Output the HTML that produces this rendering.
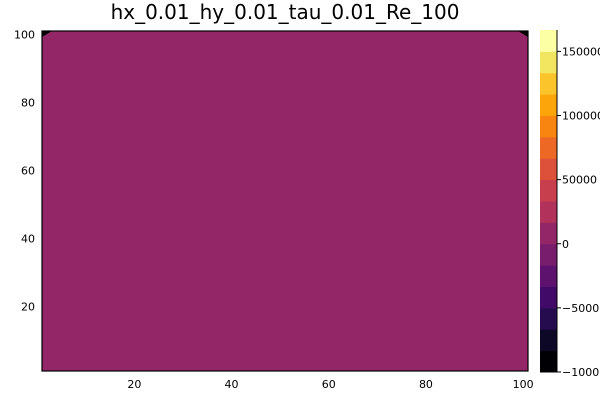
<!DOCTYPE html>
<html><head><meta charset="utf-8"><style>
body{margin:0;background:#fff}
svg{display:block;font-family:"DejaVu Sans","Liberation Sans",sans-serif}
</style></head><body>
<svg id="c" width="600" height="400" viewBox="0 0 600 400">
<text x="285" y="19" font-size="20" text-anchor="middle" fill="#000">hx_0.01_hy_0.01_tau_0.01_Re_100</text>
<g id="plot"></g>
<g id="cb"></g>
</svg>
<script>
const xTicks=[20,40,60,80,100];
const yTicks=[20,40,60,80,100];
const cbTicks=[-100000,-50000,0,50000,100000,150000];
const cbTickLabels=["\u2212100000","\u221250000","0","50000","100000","150000"];
const levelColors=["#000004","#0c0826","#240c4f","#420a68","#5d126e","#781c6d","#932667","#b1325a","#c73e4c","#dd513a","#ec6824","#f8850f","#fca50a","#fac42a","#f2e661","#fcffa4"];
const levelMin=-100000, levelStep=16666.67;
const fieldValue=5000; // dominant field value
const ns="http://www.w3.org/2000/svg";
function mk(t,a,p){const e=document.createElementNS(ns,t);for(const k in a)e.setAttribute(k,a[k]);p.appendChild(e);return e;}
const X0=1,X1=101,px0=42,px1=528;
const Y0=1,Y1=101,py0=371,py1=31;
const sx=v=>px0+(v-X0)/(X1-X0)*(px1-px0);
const sy=v=>py0-(v-Y0)/(Y1-Y0)*(py0-py1);
const plot=document.getElementById('plot');
const lvl=Math.min(levelColors.length-1,Math.max(0,Math.floor((fieldValue-levelMin)/levelStep)));
const f=mk('rect',{x:px0,y:py1,width:px1-px0,height:py0-py1,fill:levelColors[lvl]},plot);


const c1=mk('polygon',{points:`${px0},${py1} ${px0+10},${py1} ${px0},${py1+6}`,fill:"#000004"},plot);


const c2=mk('polygon',{points:`${px1},${py1} ${px1-10},${py1} ${px1},${py1+6}`,fill:"#000004"},plot);


const fr=mk('rect',{x:px0,y:py1,width:px1-px0,height:py0-py1,fill:"none",stroke:"#000","stroke-width":1.2},plot);


xTicks.forEach(t=>{const e=mk('text',{x:sx(t),y:py0+17,"font-size":11,"text-anchor":"middle"},plot);e.textContent=t;

});
yTicks.forEach(t=>{const e=mk('text',{x:px0-7,y:sy(t)+4,"font-size":11,"text-anchor":"end"},plot);e.textContent=t;

});
const cb=document.getElementById('cb');
const cbx=540,cbw=17,cbTop=30,cbBot=372;
const levelMax=levelMin+levelStep*levelColors.length;
const cy=v=>cbBot-(v-levelMin)/(levelMax-levelMin)*(cbBot-cbTop);
levelColors.forEach((col,i)=>{const a=levelMin+i*levelStep,b=a+levelStep;
const r=mk('rect',{x:cbx,y:cy(b),width:cbw,height:cy(a)-cy(b)+0.5,fill:col},cb);

});
const ax=mk('line',{x1:cbx+cbw,y1:cbTop,x2:cbx+cbw,y2:cbBot,stroke:"#000","stroke-width":1},cb);


cbTicks.forEach((t,i)=>{const y=cy(t);
const l=mk('line',{x1:cbx+cbw,y1:y,x2:cbx+cbw+4,y2:y,stroke:"#000"},cb);


const e=mk('text',{x:cbx+cbw+5,y:y+4,"font-size":11},cb);e.textContent=cbTickLabels[i];

});
</script>
</body></html>
